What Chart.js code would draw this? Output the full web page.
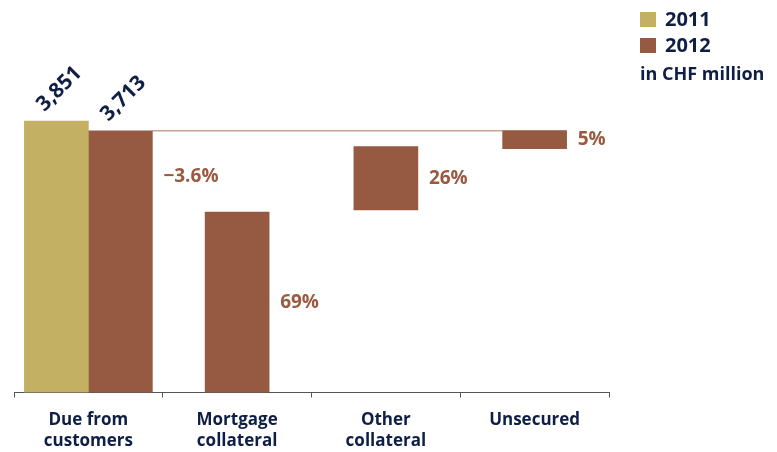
<!DOCTYPE html>
<html>
<head>
<meta charset="utf-8">
<script src="https://cdn.jsdelivr.net/npm/chart.js@4"></script>
<style>
  body { margin: 0; background: #fff; }
  canvas { display: block; }
</style>
</head>
<body>
<canvas id="chart" width="777" height="452"></canvas>
<script>
// Dữ liệu
const categories = [['Due from', 'customers'], ['Mortgage', 'collateral'], ['Other', 'collateral'], ['Unsecured']];
const values2011 = [3851, null, null, null];
const values2012 = [[0, 3713], [0, 2560], [2590, 3490], [3460, 3713]];
const valueLabels2011 = ['3,851'];
const valueLabels2012 = ['3,713'];
const shareLabels = ['\u22123.6%', '69%', '26%', '5%'];
const seriesNames = ['2011', '2012'];
const unitLabel = 'in CHF million';

const gold = '#c3b063';
const brown = '#965a43';
const navy = '#0e1e45';
const pctColor = '#9b5a40';
const FONT = '"Open Sans", sans-serif';

// Plugin vẽ nhãn, đường nối và chú thích
const overlay = {
  id: 'overlay',
  beforeDatasetsDraw(chart) {
    const ctx = chart.ctx;
    const bars = chart.getDatasetMeta(1).data;
    const y = chart.scales.y.getPixelForValue(values2012[0][1]);
    ctx.save();
    ctx.strokeStyle = '#c9a292';
    ctx.lineWidth = 1.5;
    ctx.beginPath();
    ctx.moveTo(bars[0].x + bars[0].width / 2, y);
    ctx.lineTo(bars[3].x + bars[3].width / 2, y);
    ctx.stroke();
    ctx.restore();
  },
  afterDatasetsDraw(chart) {
    const ctx = chart.ctx;
    const b11 = chart.getDatasetMeta(0).data;
    const b12 = chart.getDatasetMeta(1).data;
    ctx.save();

    // nhãn giá trị xoay 45 độ
    ctx.font = 'bold 21px ' + FONT;
    ctx.fillStyle = navy;
    ctx.textAlign = 'center';
    ctx.textBaseline = 'middle';
    [[b11[0], valueLabels2011[0]], [b12[0], valueLabels2012[0]]].forEach(([bar, txt]) => {
      ctx.save();
      ctx.translate(bar.x + 3, bar.y - 32);
      ctx.rotate(-Math.PI / 4);
      ctx.fillText(txt, 0, 0);
      ctx.restore();
    });

    // nhãn phần trăm
    ctx.font = 'bold 19px ' + FONT;
    ctx.fillStyle = pctColor;
    ctx.textAlign = 'left';
    b12.forEach((bar, i) => {
      const top = bar.y, bottom = bar.base;
      const y = i === 0 ? top + 46 : (top + bottom) / 2;
      ctx.fillText(shareLabels[i], bar.x + bar.width / 2 + 11, y);
    });

    // chú thích
    const lx = 640;
    [gold, brown].forEach((c, i) => {
      ctx.fillStyle = c;
      ctx.fillRect(lx, 12 + i * 26, 16, 15);
      ctx.fillStyle = navy;
      ctx.font = 'bold 20px ' + FONT;
      ctx.fillText(seriesNames[i], lx + 25, 20 + i * 26);
    });
    ctx.font = 'bold 18px ' + FONT;
    ctx.fillText(unitLabel, lx, 75);
    ctx.restore();
  }
};

new Chart(document.getElementById('chart'), {
  type: 'bar',
  data: {
    labels: categories,
    datasets: [
      { label: seriesNames[0], data: values2011, backgroundColor: gold },
      { label: seriesNames[1], data: values2012, backgroundColor: brown }
    ]
  },
  options: {
    responsive: false,
    animation: false,
    skipNull: true,
    barThickness: 64,
    layout: { padding: { left: 14, right: 168, top: 40, bottom: -12 } },
    plugins: {
      legend: { display: false },
      tooltip: { enabled: false }
    },
    scales: {
      x: {
        offset: true,
        grid: { offset: true, drawOnChartArea: false, drawTicks: true, tickLength: 5, color: '#555' },
        border: { display: true, color: '#555', width: 1 },
        ticks: {
          color: navy,
          padding: 12,
          maxRotation: 0,
          font: { family: FONT, size: 17, weight: 'bold', lineHeight: 1.25 }
        }
      },
      y: { display: false, min: 0, max: 5000 }
    }
  },
  plugins: [overlay]
});
</script>
</body>
</html>
